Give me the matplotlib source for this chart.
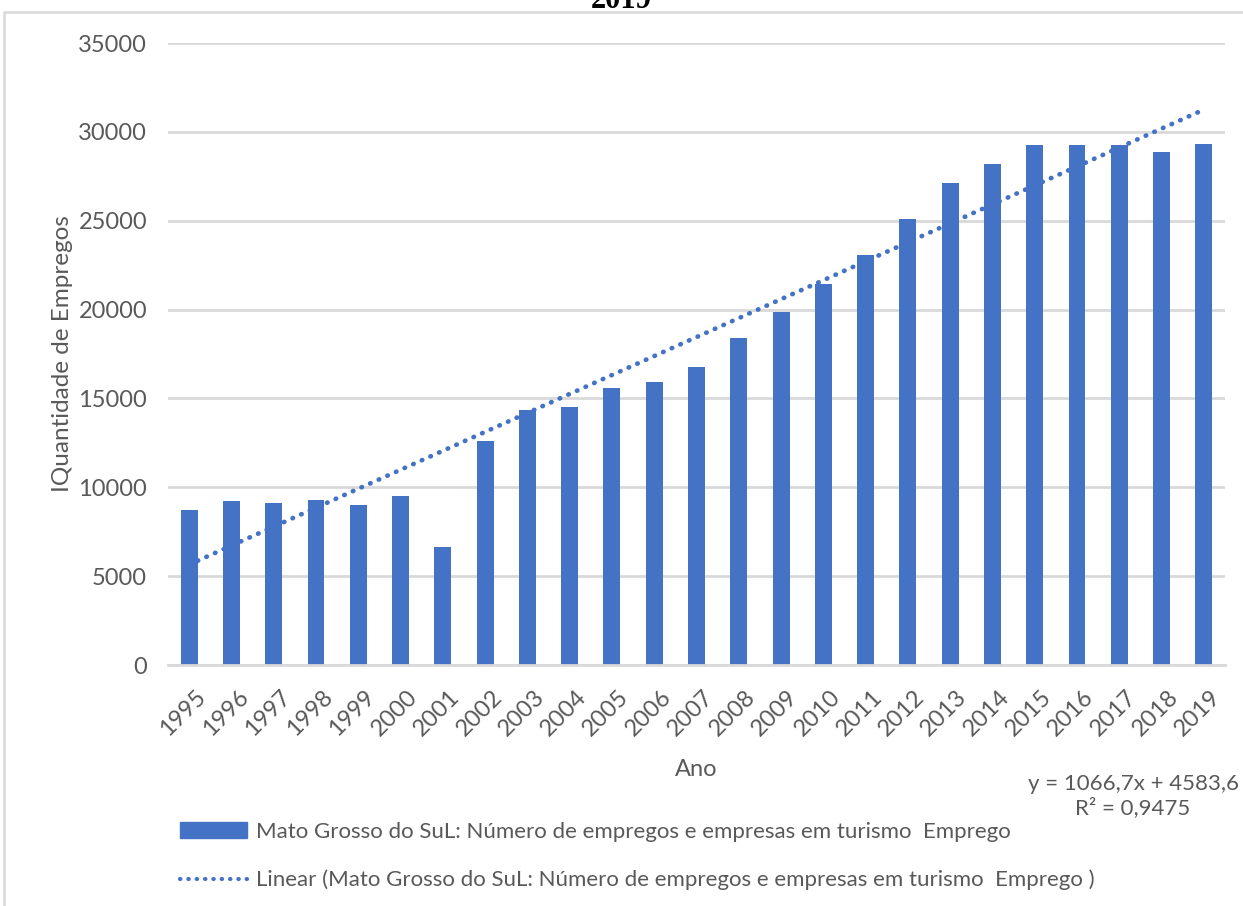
import numpy as np
import matplotlib.pyplot as plt
from matplotlib.patches import Rectangle, Patch
from matplotlib.lines import Line2D
import matplotlib.transforms as mtransforms

anos = [str(a) for a in range(1995, 2020)]
empregos = [8700, 9250, 9120, 9310, 9030, 9520, 6660, 12620, 14350, 14520,
            15580, 15920, 16780, 18400, 19850, 21420, 23050, 25120, 27140, 28210,
            29250, 29250, 29250, 28840, 29330]
# linha de tendência (equação exibida no gráfico)
coef_a = 1066.7
coef_b = 4583.6
r2 = 0.9475
y_ticks = [0, 5000, 10000, 15000, 20000, 25000, 30000, 35000]

serie = "Mato Grosso do SuL: Número de empregos e empresas em turismo  Emprego"
azul = "#4472C4"
cinza = "#595959"
grade = "#D9D9D9"

plt.rcParams['font.family'] = ['Lato', 'DejaVu Sans']

W, H = 1243, 906
fig = plt.figure(figsize=(W / 100, H / 100), dpi=100)

# moldura da área do gráfico
fig.add_artist(Rectangle((4 / W, -0.1), 1.2, (906 - 12) / H + 0.1, transform=fig.transFigure,
                         fill=False, edgecolor=grade, linewidth=1.8))

# título cortado no topo
fig.text(621 / W, (906 - 8) / H, "2019", family='Liberation Serif', weight='bold',
         fontsize=22, ha='center', va='baseline', color='black')

ax = fig.add_axes([168 / W, (906 - 665) / H, (1225 - 168) / W, (665 - 43) / H])

x = np.arange(len(anos))
ax.bar(x, empregos, width=0.4, color=azul, zorder=2)
xt = x + 1
ax.plot(x, coef_a * xt + coef_b, linestyle=(0, (0.1, 1.9)), dash_capstyle='round',
        color=azul, linewidth=3.4, zorder=3)

ax.set_xlim(-0.5, len(anos) - 0.5)
ax.set_ylim(0, 35000)
ax.set_yticks(y_ticks)
ax.set_yticklabels([str(v) for v in y_ticks])
ax.yaxis.grid(True, color=grade, linewidth=2, zorder=0)
ax.set_axisbelow(True)
for s in ['top', 'right', 'left']:
    ax.spines[s].set_visible(False)
ax.spines['bottom'].set_color(grade)
ax.spines['bottom'].set_linewidth(2)

ax.tick_params(axis='y', length=0, pad=15, labelsize=17, labelcolor=cinza)
ax.tick_params(axis='x', length=0, pad=15, labelsize=17, labelcolor=cinza)
ax.set_xticks(x)
ax.set_xticklabels(anos, rotation=45, ha='right', rotation_mode='anchor')
desloc = mtransforms.ScaledTranslation(6 / 100, 0, fig.dpi_scale_trans)
for lbl in ax.get_xticklabels():
    lbl.set_transform(lbl.get_transform() + desloc)

ax.set_xlabel("Ano", fontsize=17, color=cinza, labelpad=14)
ax.set_ylabel("IQuantidade de Empregos", fontsize=17.5, color=cinza, labelpad=4)

# equação e R² da tendência
fig.text(1133 / W, (906 - 796) / H, "y = 1066,7x + 4583,6\nR² = 0,9475", fontsize=16,
         color=cinza, ha='center', va='center', linespacing=1.2)

handles = [Patch(facecolor=azul, edgecolor=azul),
           Line2D([0], [0], color=azul, linestyle=(0, (0.1, 1.9)), dash_capstyle='round',
                  linewidth=3)]
labels = [serie, "Linear (" + serie + " )"]
fig.legend(handles, labels, loc='upper left', bbox_to_anchor=(180 / W, (906 - 822) / H),
           frameon=False, fontsize=16, labelcolor=cinza, handlelength=3.0,
           handletextpad=0.4, labelspacing=1.25, borderaxespad=0, borderpad=0)

fig.savefig("out.png", dpi=100)
